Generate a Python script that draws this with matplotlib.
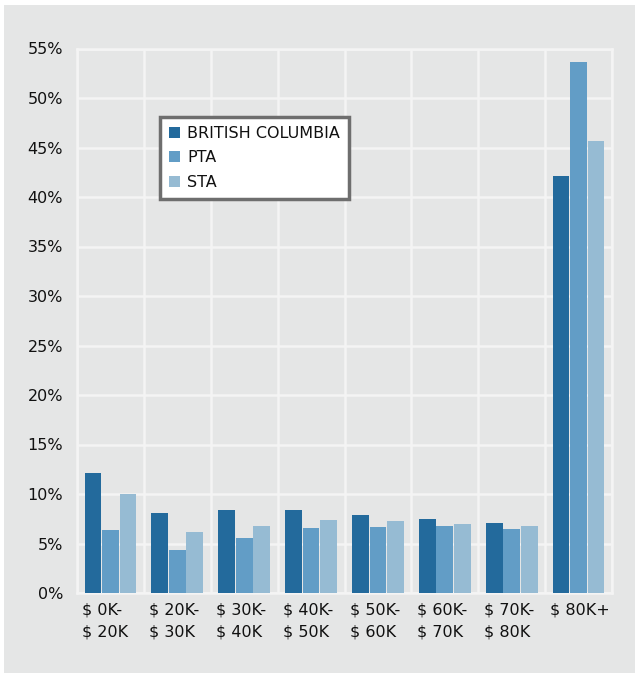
import matplotlib.pyplot as plt
import matplotlib.patches as patches
import numpy as np

plt.rcParams['font.family'] = ['DejaVu Sans']

categories = ['$ 0K-\n$ 20K', '$ 20K-\n$ 30K', '$ 30K-\n$ 40K', '$ 40K-\n$ 50K',
              '$ 50K-\n$ 60K', '$ 60K-\n$ 70K', '$ 70K-\n$ 80K', '$ 80K+']
bc = [12.1, 8.1, 8.4, 8.4, 7.9, 7.5, 7.1, 42.1]
pta = [6.4, 4.3, 5.6, 6.6, 6.7, 6.8, 6.5, 53.6]
sta = [10.0, 6.2, 6.8, 7.4, 7.3, 7.0, 6.8, 45.7]
series_names = ['BRITISH COLUMBIA', 'PTA', 'STA']
colors = ['#236a9c', '#629dc6', '#96bbd3']
bg = '#e5e6e6'
grid_c = '#f4f4f4'

fig = plt.figure(figsize=(6.4, 6.73), dpi=100)
fig.patch.set_facecolor('white')
fig.patches.append(patches.Rectangle((4/640, 0), 631/640, 1 - 5/673,
                                     transform=fig.transFigure, facecolor=bg,
                                     edgecolor='none', zorder=-10))

ax = fig.add_axes([77/640, 1 - 593/673, 535/640, 544.5/673])
ax.set_facecolor(bg)

x = np.arange(len(categories))
pitch = 0.262
w = 0.25
for k, (vals, name, c) in enumerate(zip([bc, pta, sta], series_names, colors)):
    ax.bar(x + (k - 1) * pitch, vals, width=w, color=c, label=name, zorder=3)

ax.set_xlim(-0.5, len(categories) - 0.5)
ax.set_ylim(0, 55)
ax.set_yticks(np.arange(0, 56, 5))
ax.set_yticklabels([f'{v}%' for v in range(0, 56, 5)])
ax.set_xticks(x - 0.42)
ax.set_xticklabels(categories, ha='left', linespacing=1.55)
ax.set_xticks(np.arange(-0.5, len(categories), 1), minor=True)

ax.grid(True, axis='y', color=grid_c, lw=1.8, zorder=1)
ax.grid(True, axis='x', which='minor', color=grid_c, lw=1.8, zorder=1)
ax.grid(False, axis='x', which='major')
ax.tick_params(axis='both', which='both', length=0)
ax.tick_params(axis='y', labelsize=11.5, pad=10, colors='#111111')
ax.tick_params(axis='x', labelsize=11.5, pad=7, colors='#111111')
for s in ax.spines.values():
    s.set_color(grid_c)
    s.set_linewidth(1.8)

leg = ax.legend(loc='upper left', bbox_to_anchor=(83/535, 1 - (117 - 48.5)/544.5),
                frameon=True, fancybox=False, fontsize=11.5, handlelength=0.72,
                handleheight=0.72, handletextpad=0.45, borderpad=0.55,
                labelspacing=0.6, borderaxespad=0)
leg.get_frame().set_edgecolor('#6e6e6e')
leg.get_frame().set_linewidth(2.5)
leg.get_frame().set_facecolor('white')
leg.get_frame().set_alpha(1)
for t in leg.get_texts():
    t.set_color('#111111')

fig.savefig('out.png', dpi=100)
